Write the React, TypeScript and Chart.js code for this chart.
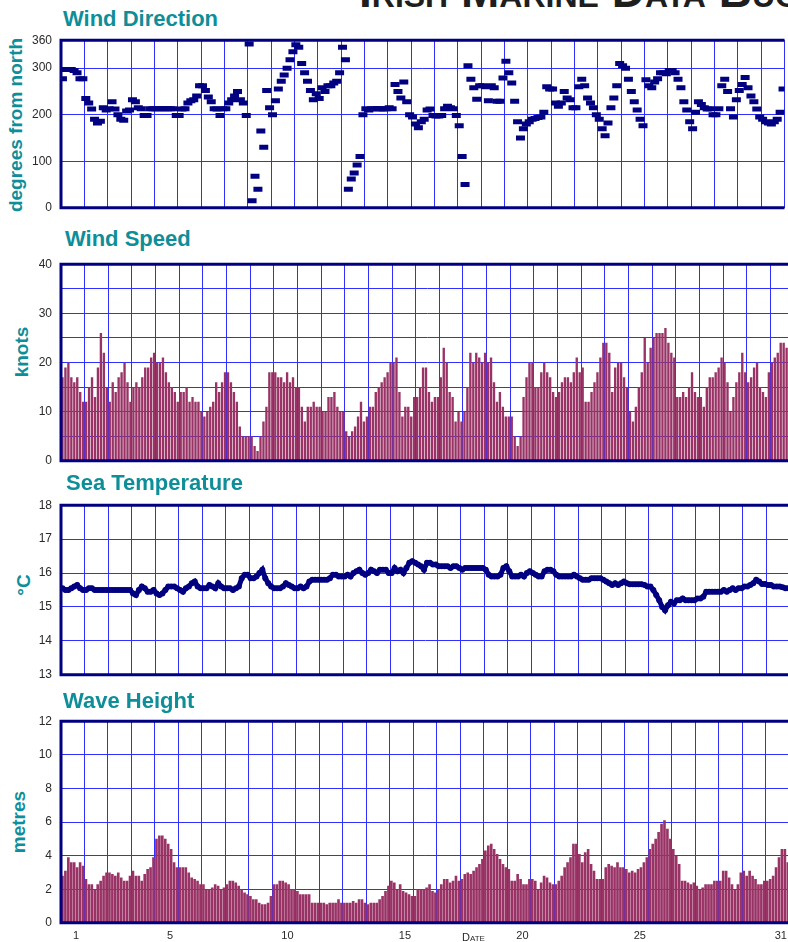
import React, { useEffect, useRef } from "react";
import { Chart, registerables } from "chart.js";

Chart.register(...registerables);

// ---------- data (3-hourly readings, 8 per day, days 1..31) ----------
const SLOTS_PER_DAY = 8;
const DAY_MIN = 0;
const DAY_MAX = 31;
const dayTickLabels = [1, 5, 10, 15, 20, 25, 31];

const windDirTicks = [0, 100, 200, 300, 360];
const windDirLabels = [0, 100, 200, 300, 360];
const windSpeedTicks = [0, 5, 10, 15, 20, 25, 30, 35, 40];
const windSpeedLabels = [0, 10, 20, 30, 40];
const seaTempTicks = [13, 14, 15, 16, 17, 18];
const seaTempLabels = [13, 14, 15, 16, 17, 18];
const waveTicks = [0, 2, 4, 6, 8, 10, 12];
const waveLabels = [0, 2, 4, 6, 8, 10, 12];

const windDirection = [
  277, 297, 297, 297, 295, 290, 277, 277,
  235, 225, 212, 190, 182, 186, 215, 210,
  213, 228, 212, 200, 190, 188, 208, 210,
  232, 228, 215, 213, 198, 198, 213, 213,
  213, 213, 213, 213, 213, 213, 213, 198,
  198, 212, 213, 225, 230, 232, 240, 262,
  262, 252, 238, 228, 213, 212, 198, 213,
  213, 225, 232, 240, 250, 232, 225, 198,
  352, 15, 68, 40, 165, 130, 252, 215,
  200, 230, 255, 272, 285, 300, 318, 335,
  350, 345, 310, 290, 272, 252, 232, 245,
  235, 258, 250, 262, 262, 268, 272, 290,
  345, 318, 40, 62, 75, 92, 110, 200,
  213, 210, 213, 213, 213, 213, 212, 213,
  215, 213, 265, 250, 236, 270, 228, 200,
  195, 180, 172, 185, 190, 210, 212, 198,
  197, 197, 198, 213, 218, 215, 213, 198,
  176, 110, 50, 305, 276, 258, 233, 262,
  262, 260, 230, 262, 258, 229, 229, 279,
  315, 290, 268, 229, 185, 150, 170, 180,
  185, 190, 192, 194, 195, 205, 260, 255,
  255, 225, 218, 225, 250, 236, 232, 215,
  215, 260, 276, 262, 236, 225, 215, 200,
  190, 170, 155, 182, 215, 236, 262, 310,
  305, 300, 276, 250, 228, 210, 190, 176,
  275, 262, 258, 270, 277, 290, 290, 288,
  295, 295, 290, 276, 258, 228, 210, 185,
  170, 205, 228, 222, 215, 212, 213, 200,
  200, 213, 262, 276, 250, 213, 195, 232,
  252, 265, 280, 258, 240, 228, 212, 195,
  190, 185, 182, 180, 185, 190, 205, 255,
];

const windSpeed = [
  17, 19, 20, 17, 16, 17, 14, 12,
  12, 15, 17, 13, 19, 26, 22, 15,
  12, 16, 14, 17, 18, 20, 16, 12,
  15, 16, 15, 17, 19, 19, 21, 22,
  20, 20, 21, 18, 16, 15, 14, 12,
  14, 14, 15, 12, 13, 12, 12, 10,
  9, 10, 11, 12, 16, 14, 16, 18,
  18, 16, 14, 12, 7, 5, 5, 5,
  5, 3, 2, 5, 8, 11, 18, 18,
  18, 17, 17, 16, 18, 16, 17, 15,
  15, 11, 8, 11, 11, 12, 11, 11,
  10, 10, 13, 13, 14, 11, 10, 10,
  6, 5, 6, 7, 9, 12, 8, 9,
  11, 11, 14, 15, 16, 17, 18, 20,
  20, 21, 14, 9, 11, 11, 9, 13,
  13, 15, 19, 19, 14, 12, 13, 13,
  17, 23, 20, 14, 13, 8, 10, 8,
  10, 15, 22, 20, 22, 21, 20, 22,
  20, 21, 16, 12, 14, 11, 9, 9,
  9, 5, 3, 5, 13, 17, 20, 20,
  15, 15, 18, 20, 18, 17, 14, 13,
  14, 16, 17, 17, 16, 18, 21, 18,
  19, 12, 12, 14, 16, 18, 21, 24,
  24, 22, 14, 19, 20, 20, 17, 15,
  10, 8, 11, 15, 18, 25, 20, 23,
  25, 26, 26, 26, 27, 24, 22, 21,
  13, 13, 14, 13, 15, 18, 14, 13,
  13, 11, 15, 17, 17, 18, 19, 21,
  20, 16, 10, 13, 16, 18, 22, 18,
  16, 17, 19, 20, 15, 14, 13, 18,
  20, 21, 22, 24, 24, 23, 12, 13,
];

const seaTemperature = [
  15.55, 15.5, 15.5, 15.55, 15.6, 15.65, 15.55, 15.5,
  15.5, 15.55, 15.55, 15.5, 15.5, 15.5, 15.5, 15.5,
  15.5, 15.5, 15.5, 15.5, 15.5, 15.5, 15.5, 15.5,
  15.4, 15.35, 15.5, 15.6, 15.55, 15.45, 15.45, 15.5,
  15.4, 15.35, 15.4, 15.5, 15.6, 15.6, 15.6, 15.55,
  15.5, 15.45, 15.55, 15.6, 15.7, 15.75, 15.6, 15.55,
  15.55, 15.55, 15.65, 15.6, 15.55, 15.7, 15.6, 15.55,
  15.55, 15.55, 15.5, 15.55, 15.6, 15.85, 15.95, 15.95,
  15.85, 15.85, 15.9, 16.0, 16.1, 15.85, 15.7, 15.6,
  15.55, 15.55, 15.55, 15.6, 15.7, 15.65, 15.6, 15.55,
  15.55, 15.6, 15.55, 15.6, 15.75, 15.8, 15.8, 15.8,
  15.8, 15.8, 15.8, 15.85, 15.95, 15.95, 15.9, 15.9,
  15.9, 15.95, 15.9, 16.0, 16.05, 16.1, 16.0, 15.95,
  16.0, 16.1, 16.05, 16.0, 16.1, 16.1, 16.1, 16.0,
  16.0, 16.15, 16.05, 16.1, 16.0, 16.15, 16.3, 16.35,
  16.3, 16.25, 16.2, 16.1, 16.3, 16.3, 16.25, 16.25,
  16.2, 16.2, 16.2, 16.2, 16.15, 16.2, 16.2, 16.15,
  16.1, 16.15, 16.15, 16.15, 16.15, 16.15, 16.15, 16.15,
  16.1, 15.95, 15.9, 15.9, 15.9, 15.95, 16.15, 16.2,
  16.05, 15.9, 15.9, 15.9, 15.95, 15.9, 16.0, 16.05,
  16.0, 15.95, 15.9, 15.9, 16.05, 16.1, 16.1, 16.05,
  15.95, 15.9, 15.9, 15.9, 15.9, 15.9, 15.95, 15.9,
  15.85, 15.8, 15.8, 15.8, 15.85, 15.85, 15.85, 15.85,
  15.8, 15.75, 15.7, 15.65, 15.7, 15.65, 15.7, 15.75,
  15.7, 15.67, 15.67, 15.67, 15.67, 15.67, 15.65, 15.6,
  15.6, 15.5, 15.35, 15.2, 15.0, 14.9, 15.05, 15.15,
  15.1, 15.2, 15.2, 15.25, 15.2, 15.2, 15.2, 15.2,
  15.25, 15.25, 15.3, 15.45, 15.45, 15.45, 15.45, 15.45,
  15.45, 15.5, 15.45, 15.5, 15.55, 15.5, 15.55, 15.55,
  15.6, 15.6, 15.65, 15.7, 15.8, 15.75, 15.68, 15.68,
  15.65, 15.65, 15.6, 15.6, 15.6, 15.58, 15.55, 15.55,
];

const waveHeight = [
  2.8, 3.1, 3.9, 3.6, 3.6, 3.3, 3.6, 3.4,
  2.6, 2.3, 2.3, 2.0, 2.3, 2.5, 2.8, 3.0,
  3.0, 2.9, 2.8, 3.0, 2.7, 2.5, 2.5, 2.8,
  3.1, 2.8, 2.8, 2.5, 2.9, 3.2, 3.3, 3.9,
  5.0, 5.2, 5.2, 5.0, 4.7, 4.4, 3.6, 3.3,
  3.3, 3.3, 3.3, 3.0, 2.7, 2.6, 2.5, 2.3,
  2.3, 2.0, 2.0, 2.1, 2.3, 2.2, 2.0, 2.1,
  2.3, 2.5, 2.5, 2.4, 2.2, 2.0, 1.8, 1.7,
  1.6, 1.4, 1.4, 1.2, 1.1, 1.1, 1.2, 1.6,
  2.3, 2.3, 2.5, 2.5, 2.4, 2.3, 2.0, 2.0,
  1.9, 1.7, 1.7, 1.7, 1.7, 1.2, 1.2, 1.2,
  1.2, 1.2, 1.1, 1.2, 1.2, 1.2, 1.4, 1.2,
  1.2, 1.2, 1.2, 1.3, 1.2, 1.4, 1.4, 1.2,
  1.1, 1.2, 1.2, 1.2, 1.4, 1.6, 1.9, 2.2,
  2.5, 2.4, 2.0, 2.3, 1.9, 1.8, 1.7, 1.6,
  1.6, 2.0, 2.0, 2.0, 2.1, 2.3, 1.9, 1.8,
  2.0, 2.3, 2.6, 2.6, 2.4, 2.5, 2.8, 2.5,
  2.6, 2.9, 3.0, 2.9, 3.1, 3.3, 3.5, 3.8,
  4.3, 4.6, 4.7, 4.4, 4.1, 3.8, 3.5, 3.3,
  3.2, 2.5, 2.5, 2.9, 2.6, 2.3, 2.3, 2.6,
  2.6, 2.5, 2.0, 2.4, 2.8, 2.7, 2.4, 2.3,
  2.3, 2.5, 2.8, 3.3, 3.6, 3.9, 4.7, 4.7,
  4.1, 3.6, 4.2, 4.4, 3.5, 3.1, 2.6, 2.6,
  2.6, 3.3, 3.5, 3.4, 3.3, 3.6, 3.3, 3.3,
  3.2, 3.0, 3.1, 3.0, 3.2, 3.3, 3.6, 3.9,
  4.4, 4.7, 5.0, 5.4, 5.9, 6.1, 5.6, 5.0,
  4.4, 4.0, 3.5, 2.5, 2.5, 2.4, 2.3, 2.4,
  2.2, 2.0, 2.1, 2.3, 2.3, 2.3, 2.5, 2.5,
  2.5, 3.1, 3.1, 2.7, 2.3, 2.0, 2.3, 3.0,
  3.1, 2.8, 3.1, 2.8, 2.6, 2.3, 2.3, 2.5,
  2.5, 2.6, 2.8, 3.3, 3.9, 4.4, 4.4, 3.6,
];

// ---------- styling ----------
const FONT = "'Liberation Sans', Arial, Helvetica, sans-serif";
const TEAL = "#0e8e98";
const NAVY = "#000080";
const GRID = "#2f2fff";
const MAROON = "#993366";
const TICK = "#2a2a2a";
const PAGE_WIDTH = 788;
const CANVAS_WIDTH = 794;

Chart.defaults.font.family = FONT;

const toPoints = (values: number[]) =>
  values.map((v, i) => ({ x: (i + 0.5) / SLOTS_PER_DAY, y: v }));

const framePlugin = {
  id: "frame",
  afterDatasetsDraw(chart: any) {
    const { ctx, chartArea: a } = chart;
    ctx.save();
    ctx.strokeStyle = NAVY;
    ctx.lineWidth = 3;
    ctx.beginPath();
    ctx.moveTo(a.right, a.top);
    ctx.lineTo(a.left, a.top);
    ctx.lineTo(a.left, a.bottom);
    ctx.lineTo(a.right, a.bottom);
    ctx.stroke();
    ctx.restore();
  },
};

function buildScales(
  yMin: number,
  yMax: number,
  yTicks: number[],
  yLabels: number[],
  showDays: boolean
) {
  const scales: any = {
    x: {
      type: "linear",
      min: DAY_MIN,
      max: DAY_MAX,
      offset: false,
      grid: { color: GRID, lineWidth: 1, drawTicks: false, offset: false },
      border: { display: false },
      ticks: { display: false, stepSize: 1, maxTicksLimit: 100 },
    },
    y: {
      type: "linear",
      min: yMin,
      max: yMax,
      grid: { color: GRID, lineWidth: 1, drawTicks: false },
      border: { display: false },
      afterBuildTicks: (s: any) => {
        s.ticks = yTicks.map((v) => ({ value: v }));
      },
      afterFit: (s: any) => {
        s.width = 61;
      },
      ticks: {
        padding: 9,
        color: TICK,
        font: { size: 12, family: FONT },
        callback: (v: number) => (yLabels.includes(v) ? String(v) : ""),
      },
    },
  };
  if (showDays) {
    scales.days = {
      type: "linear",
      position: "bottom",
      axis: "x",
      min: DAY_MIN,
      max: DAY_MAX,
      offset: false,
      grid: { display: false, drawTicks: false },
      border: { display: false },
      afterBuildTicks: (s: any) => {
        s.ticks = dayTickLabels.map((d) => ({ value: d - 0.36 }));
      },
      ticks: {
        autoSkip: false,
        maxRotation: 0,
        padding: 7,
        color: TICK,
        font: { size: 11, family: FONT },
        callback: (_v: number, i: number) => String(dayTickLabels[i]),
      },
    };
  }
  return scales;
}

function baseOptions(scales: any, showDays: boolean) {
  return {
    animation: false,
    responsive: false,
    maintainAspectRatio: false,
    layout: { padding: { top: 10, bottom: showDays ? 0 : 10, left: 0, right: 0 } },
    plugins: { legend: { display: false }, tooltip: { enabled: false } },
    scales,
  };
}

function ChartCanvas({ top, height, makeConfig }: { top: number; height: number; makeConfig: () => any }) {
  const ref = useRef<HTMLCanvasElement>(null);
  useEffect(() => {
    const chart = new Chart(ref.current as HTMLCanvasElement, makeConfig());
    return () => chart.destroy();
  }, []);
  return (
    <canvas
      ref={ref}
      width={CANVAS_WIDTH}
      height={height}
      style={{ position: "absolute", left: 0, top, width: CANVAS_WIDTH, height, display: "block" }}
    />
  );
}

const windDirConfig = () => ({
  type: "scatter",
  data: {
    datasets: [
      {
        data: toPoints(windDirection),
        pointStyle: "line",
        pointRadius: 4.5,
        borderWidth: 5,
        pointBorderWidth: 5,
        borderColor: NAVY,
        pointBorderColor: NAVY,
        backgroundColor: NAVY,
      },
    ],
  },
  options: baseOptions(buildScales(0, 360, windDirTicks, windDirLabels, false), false),
  plugins: [framePlugin],
});

const windSpeedConfig = () => ({
  type: "bar",
  data: {
    datasets: [
      {
        data: toPoints(windSpeed),
        backgroundColor: MAROON,
        borderWidth: 0,
        barPercentage: 0.8,
        categoryPercentage: 1,
      },
    ],
  },
  options: baseOptions(buildScales(0, 40, windSpeedTicks, windSpeedLabels, false), false),
  plugins: [framePlugin],
});

const seaTempConfig = () => ({
  type: "line",
  data: {
    datasets: [
      {
        data: toPoints(seaTemperature),
        borderColor: NAVY,
        borderWidth: 5,
        pointRadius: 3,
        pointBackgroundColor: NAVY,
        pointBorderWidth: 0,
        tension: 0,
      },
    ],
  },
  options: baseOptions(buildScales(13, 18, seaTempTicks, seaTempLabels, false), false),
  plugins: [framePlugin],
});

const waveConfig = () => ({
  type: "bar",
  data: {
    datasets: [
      {
        data: toPoints(waveHeight),
        backgroundColor: MAROON,
        borderWidth: 0,
        barPercentage: 0.9,
        categoryPercentage: 1,
      },
    ],
  },
  options: baseOptions(buildScales(0, 12, waveTicks, waveLabels, true), true),
  plugins: [framePlugin],
});

const panelTitle: React.CSSProperties = {
  position: "absolute",
  fontFamily: FONT,
  fontWeight: 700,
  fontSize: 22,
  lineHeight: "22px",
  color: TEAL,
  whiteSpace: "nowrap",
};

const axisTitle = (cx: number, cy: number): React.CSSProperties => ({
  position: "absolute",
  left: cx,
  top: cy,
  transform: "translate(-50%, -50%) rotate(-90deg)",
  fontFamily: FONT,
  fontWeight: 700,
  fontSize: 19,
  lineHeight: "19px",
  color: TEAL,
  whiteSpace: "nowrap",
});

export default function App() {
  return (
    <div
      style={{
        position: "absolute",
        left: 0,
        top: 0,
        width: PAGE_WIDTH,
        height: 942,
        overflow: "hidden",
        background: "#ffffff",
      }}
    >
      <div
        style={{
          position: "absolute",
          left: 359,
          top: -32,
          fontFamily: FONT,
          fontWeight: 700,
          fontSize: 46,
          lineHeight: "46px",
          fontVariant: "small-caps",
          color: "#1e1e1e",
          whiteSpace: "nowrap",
        }}
      >
        Irish Marine Data Buoy
      </div>

      <div style={{ ...panelTitle, left: 63, top: 8 }}>Wind Direction</div>
      <div style={axisTitle(15, 125)}>degrees from north</div>
      <ChartCanvas top={24} height={200} makeConfig={windDirConfig} />

      <div style={{ ...panelTitle, left: 65, top: 228 }}>Wind Speed</div>
      <div style={axisTitle(21, 352)}>knots</div>
      <ChartCanvas top={248} height={229} makeConfig={windSpeedConfig} />

      <div style={{ ...panelTitle, left: 66, top: 472 }}>Sea Temperature</div>
      <div style={axisTitle(23, 585)}>°C</div>
      <ChartCanvas top={489} height={202} makeConfig={seaTempConfig} />

      <div style={{ ...panelTitle, left: 63, top: 690 }}>Wave Height</div>
      <div style={axisTitle(18, 822)}>metres</div>
      <ChartCanvas top={705} height={245} makeConfig={waveConfig} />

      <div
        style={{
          position: "absolute",
          left: 462,
          top: 932,
          fontFamily: FONT,
          fontSize: 11,
          lineHeight: "11px",
          fontVariant: "small-caps",
          color: TICK,
        }}
      >
        Date
      </div>
    </div>
  );
}
